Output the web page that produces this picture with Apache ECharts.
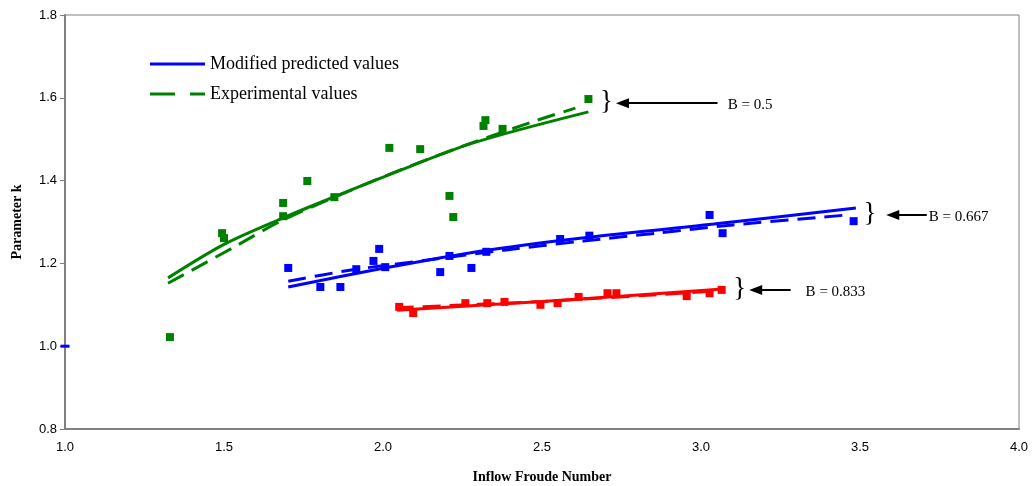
<!DOCTYPE html>
<html>
<head>
<meta charset="utf-8">
<script src="https://cdn.jsdelivr.net/npm/echarts@6/dist/echarts.min.js"></script>
<style>
  html, body { margin: 0; padding: 0; background: #fff; }
  #chart { width: 1034px; height: 486px; }
</style>
</head>
<body>
<div id="chart"></div>
<script>
// ---------- DATA ----------
const xTickLabels = ['1.0', '1.5', '2.0', '2.5', '3.0', '3.5', '4.0'];
const yTickLabels = ['0.8', '1.0', '1.2', '1.4', '1.6', '1.8'];

// Experimental points, B = 0.5 (green)
const greenPoints = [
  [1.33, 1.022], [1.494, 1.273], [1.50, 1.261], [1.686, 1.346], [1.686, 1.314],
  [1.762, 1.399], [1.847, 1.360], [2.02, 1.479], [2.117, 1.476], [2.209, 1.363],
  [2.221, 1.312], [2.316, 1.532], [2.322, 1.546], [2.376, 1.525], [2.646, 1.597]
];
// Experimental points, B = 0.667 (blue)
const bluePoints = [
  [1.702, 1.189], [1.803, 1.143], [1.866, 1.143], [1.916, 1.186], [1.97, 1.206],
  [1.988, 1.235], [2.007, 1.191], [2.18, 1.179], [2.209, 1.218], [2.278, 1.189],
  [2.325, 1.228], [2.557, 1.259], [2.649, 1.267], [3.027, 1.317], [3.068, 1.273],
  [3.48, 1.302]
];
// Experimental points, B = 0.833 (red)
const redPoints = [
  [2.051, 1.095], [2.095, 1.080], [2.259, 1.104], [2.328, 1.104], [2.382, 1.107],
  [2.495, 1.100], [2.549, 1.104], [2.615, 1.119], [2.706, 1.128], [2.734, 1.128],
  [2.955, 1.121], [3.027, 1.128], [3.065, 1.136]
];
// Origin mark
const originPoint = [[1.0, 1.0]];

// Modified predicted values (solid lines)
const greenPredicted = [[1.324, 1.165], [1.5, 1.246], [1.686, 1.310], [1.844, 1.360], [2.032, 1.418], [2.284, 1.491], [2.646, 1.566]];
const bluePredicted  = [[1.702, 1.143], [1.992, 1.187], [2.3, 1.229], [2.62, 1.261], [3.04, 1.295], [3.487, 1.334]];
const redPredicted   = [[2.045, 1.087], [2.5, 1.108], [3.068, 1.138]];

// Experimental trend values (dashed lines)
const greenExperimental = [[1.324, 1.152], [1.526, 1.237], [1.686, 1.305], [2.0, 1.409], [2.243, 1.481], [2.486, 1.546], [2.605, 1.575]];
const blueExperimental  = [[1.702, 1.157], [1.9, 1.184], [2.14, 1.208], [2.38, 1.232], [2.63, 1.254], [2.86, 1.273], [3.10, 1.293], [3.46, 1.317]];
const redExperimental   = [[2.04, 1.093], [2.5, 1.108], [3.06, 1.134]];

// Annotations: [label, braceX, y, arrowFromX, arrowToX, textX]
const annotations = [
  ['B = 0.5',   2.703, 1.587, 3.052, 2.753, 3.084],
  ['B = 0.667', 3.531, 1.317, 3.710, 3.603, 3.716],
  ['B = 0.833', 3.122, 1.136, 3.282, 3.172, 3.329]
];

// ---------- CHART ----------
const GREEN = '#008000', BLUE = '#0000FF', RED = '#FF0000';
const chart = echarts.init(document.getElementById('chart'));

function lineSeries(name, data, color, dashed) {
  return {
    name: name, type: 'line', data: data, symbol: 'none', smooth: 0.3,
    lineStyle: { color: color, width: 3, type: dashed ? [18, 9] : 'solid' },
    itemStyle: { color: color }, z: 2, silent: true, animation: false
  };
}
function scatterSeries(name, data, color) {
  return {
    name: name, type: 'scatter', data: data, symbol: 'rect', symbolSize: 8,
    itemStyle: { color: color, opacity: 1 }, z: 3, silent: true, animation: false
  };
}

const annotSeries = {
  name: 'annotations', type: 'line', data: [], symbol: 'none', silent: true, animation: false,
  markLine: {
    silent: true, animation: false,
    symbol: ['none', 'triangle'], symbolSize: [10, 13],
    lineStyle: { color: '#000', width: 2, type: 'solid' },
    label: { show: false },
    data: annotations.map(a => [{ coord: [a[3], a[2]] }, { coord: [a[4], a[2]] }])
  },
  markPoint: {
    silent: true, animation: false, symbol: 'circle', symbolSize: 0,
    data: annotations.flatMap(a => [
      { coord: [a[1], a[2]], label: { show: true, formatter: '}', position: 'inside',
          fontFamily: 'Liberation Serif', fontSize: 27, color: '#000', offset: [0, -1] } },
      { coord: [a[5], a[2]], label: { show: true, formatter: a[0], position: 'right', distance: 0,
          fontFamily: 'Liberation Serif', fontSize: 15, color: '#000', offset: [0, 2] } }
    ])
  }
};

chart.setOption({
  animation: false,
  backgroundColor: '#fff',
  grid: { left: 65, right: 15, top: 15, bottom: 57, show: true, borderColor: '#808080', borderWidth: 1,
          containLabel: false, outerBoundsMode: 'none' },
  legend: {
    orient: 'vertical', left: 145, top: 50, itemWidth: 55, itemHeight: 3, itemGap: 12,
    selectedMode: false,
    textStyle: { fontFamily: 'Liberation Serif', fontSize: 18, color: '#000' },
    data: [
      { name: 'Modified predicted values', icon: 'rect', itemStyle: { color: BLUE } },
      { name: 'Experimental values', icon: 'path://M0,0H25V3H0ZM40,0H55V3H40Z', itemStyle: { color: GREEN } }
    ]
  },
  xAxis: {
    type: 'value', min: 1.0, max: 4.0, interval: 0.5,
    name: 'Inflow Froude Number', nameLocation: 'middle', nameGap: 41,
    nameTextStyle: { fontFamily: 'Liberation Serif', fontWeight: 'bold', fontSize: 14, color: '#000' },
    axisLine: { lineStyle: { color: '#808080', width: 2 } },
    axisTick: { show: false },
    splitLine: { show: false },
    axisLabel: { fontFamily: 'Liberation Sans', fontSize: 13, color: '#000', margin: 12,
      formatter: v => xTickLabels[Math.round((v - 1.0) / 0.5)] }
  },
  yAxis: {
    type: 'value', min: 0.8, max: 1.8, interval: 0.2,
    name: 'Parameter k', nameLocation: 'middle', nameGap: 41, nameRotate: 90,
    nameTextStyle: { fontFamily: 'Liberation Serif', fontWeight: 'bold', fontSize: 14, color: '#000' },
    axisLine: { show: true, lineStyle: { color: '#808080', width: 2 } },
    axisTick: { show: true, length: 5, lineStyle: { color: '#808080' } },
    splitLine: { show: false },
    axisLabel: { fontFamily: 'Liberation Sans', fontSize: 13, color: '#000', margin: 8,
      formatter: v => yTickLabels[Math.round((v - 0.8) / 0.2)] }
  },
  series: [
    lineSeries('Modified predicted values', bluePredicted, BLUE, false),
    lineSeries('Predicted B=0.5', greenPredicted, GREEN, false),
    lineSeries('Predicted B=0.833', redPredicted, RED, false),
    lineSeries('Experimental values', greenExperimental, GREEN, true),
    lineSeries('Experimental B=0.667', blueExperimental, BLUE, true),
    lineSeries('Experimental B=0.833', redExperimental, RED, true),
    scatterSeries('Points B=0.5', greenPoints, GREEN),
    scatterSeries('Points B=0.667', bluePoints, BLUE),
    scatterSeries('Points B=0.833', redPoints, RED),
    { name: 'origin', type: 'scatter', data: originPoint, symbol: 'rect', symbolSize: [9, 3],
      itemStyle: { color: BLUE, opacity: 1 }, z: 4, silent: true, animation: false },
    annotSeries
  ]
});
</script>
</body>
</html>
